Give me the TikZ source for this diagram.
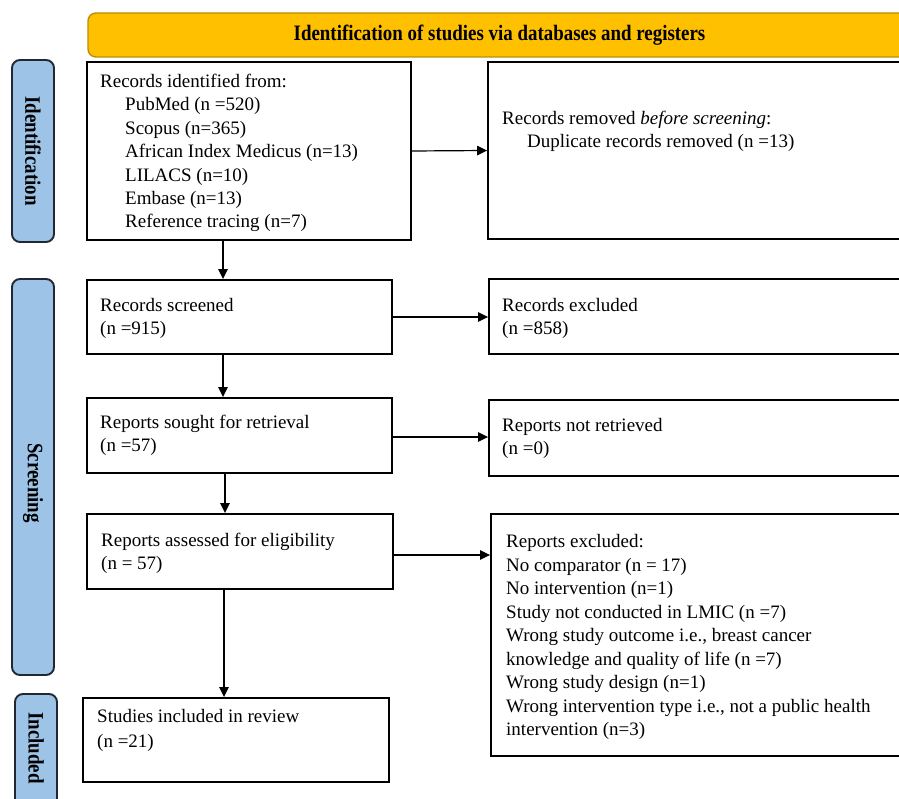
\documentclass[tikz,border=0pt]{standalone}
\usepackage{fontspec}
\setmainfont{Liberation Serif}
\newfontfamily\condbf[FakeStretch=0.86]{Liberation Serif Bold}
\usetikzlibrary{arrows.meta}
\definecolor{hdrfill}{HTML}{FFC000}
\definecolor{hdrline}{HTML}{B8900A}
\definecolor{labfill}{HTML}{9DC3E6}
\definecolor{labline}{HTML}{222833}
\tikzset{
  box/.style={draw=black, line width=1.9pt, fill=white, inner sep=0pt},
  lab/.style={draw=labline, line width=1.9pt, fill=labfill, rounded corners=8pt, inner sep=0pt},
  hdrbox/.style={draw=hdrline, line width=1.4pt, fill=hdrfill, rounded corners=8pt, inner sep=0pt},
  labtxt/.style={rotate=-90, font=\condbf\fontsize{22}{24}\selectfont, inner sep=0pt},
  hdrtxt/.style={font=\condbf\fontsize{22}{24}\selectfont, inner sep=0pt},
  txt/.style={anchor=base west, inner sep=0pt, font=\fontsize{19}{23}\selectfont},
  arr/.style={line width=1.2pt, -{Triangle[length=10pt,width=9.5pt]}}
}
\begin{document}
\begin{tikzpicture}[x=1pt,y=-1pt]
\useasboundingbox (0,0) rectangle (899,799);
\clip (0,0) rectangle (899,799);
\fill[white] (0,0) rectangle (899,799);
% header
\node[hdrbox, minimum width=823pt, minimum height=44pt] (hdr) at (499.5,35) {};
\node[hdrtxt] (hdrt) at (499.5,35) {Identification of studies via databases and registers};
% side labels
\node[lab, minimum width=42pt, minimum height=182pt] (lab1) at (33,151) {};
\node[labtxt] (lab1t) at (33,151) {Identification};
\node[lab, minimum width=42pt, minimum height=396pt] (lab2) at (33,477) {};
\node[labtxt] (lab2t) at (33,483) {Screening};
\node[lab, minimum width=42pt, minimum height=136pt] (lab3) at (36,762) {};
\node[labtxt] (lab3t) at (36,748) {Included};
% boxes
\node[box, minimum width=324pt, minimum height=178pt] (ident) at (249,151) {};
\node[box, minimum width=423pt, minimum height=177pt] (removed) at (699.5,150.5) {};
\node[box, minimum width=305pt, minimum height=74pt] (screened) at (239.5,317) {};
\node[box, minimum width=422pt, minimum height=75pt] (excluded) at (700,316.5) {};
\node[box, minimum width=305pt, minimum height=75pt] (sought) at (239.5,435.5) {};
\node[box, minimum width=422pt, minimum height=76pt] (notretr) at (700,438) {};
\node[box, minimum width=306pt, minimum height=75pt] (assessed) at (240,551.5) {};
\node[box, minimum width=420pt, minimum height=242pt] (repexcl) at (701,635) {};
\node[box, minimum width=306pt, minimum height=84pt] (studies) at (236,740) {};
% texts
\node[txt] (a1) at (100,87.5) {Records identified from:};
\node[txt] (a2) at (125,110.9) {PubMed (n =520)};
\node[txt] (a3) at (125,134.3) {Scopus (n=365)};
\node[txt] (a4) at (125,157.7) {African Index Medicus (n=13)};
\node[txt] (a5) at (125,181.1) {LILACS (n=10)};
\node[txt] (a6) at (125,204.5) {Embase (n=13)};
\node[txt] (a7) at (125,227.9) {Reference tracing (n=7)};
\node[txt] (b1) at (502,124.5) {Records removed \textit{before screening}:};
\node[txt] (b2) at (527,147.5) {Duplicate records removed (n =13)};
\node[txt] (c1) at (100,311.5) {Records screened};
\node[txt] (c2) at (100,334.9) {(n =915)};
\node[txt] (d1) at (502,311.5) {Records excluded};
\node[txt] (d2) at (502,334.9) {(n =858)};
\node[txt] (e1) at (100,428.5) {Reports sought for retrieval};
\node[txt] (e2) at (100,451.9) {(n =57)};
\node[txt] (f1) at (502,431.5) {Reports not retrieved};
\node[txt] (f2) at (502,454.9) {(n =0)};
\node[txt] (g1) at (101,546.5) {Reports assessed for eligibility};
\node[txt] (g2) at (101,569.9) {(n = 57)};
\node[txt] (h1) at (506,547.5) {Reports excluded:};
\node[txt] (h2) at (506,571) {No comparator (n = 17)};
\node[txt] (h3) at (506,594.5) {No intervention (n=1)};
\node[txt] (h4) at (506,618) {Study not conducted in LMIC (n =7)};
\node[txt] (h5) at (506,641.5) {Wrong study outcome i.e., breast cancer};
\node[txt] (h6) at (506,665) {knowledge and quality of life (n =7)};
\node[txt] (h7) at (506,688.5) {Wrong study design (n=1)};
\node[txt] (h8) at (506,712) {Wrong intervention type i.e., not a public health};
\node[txt] (h9) at (506,735.5) {intervention (n=3)};
\node[txt] (i1) at (97,722.5) {Studies included in review};
\node[txt] (i2) at (97,747) {(n =21)};
% connectors
\coordinate (v1) at (223,0);
\coordinate (v2) at (225,0);
\coordinate (v3) at (224,0);
\coordinate (hy1) at (0,437);
\coordinate (hy2) at (0,555);
\draw[arr] (ident.east) -- (removed.west);
\draw[arr] (ident.south -| v1) -- (screened.north -| v1);
\draw[arr] (screened.east) -- (excluded.west |- screened.east);
\draw[arr] (screened.south -| v1) -- (sought.north -| v1);
\draw[arr] (sought.east |- hy1) -- (notretr.west |- hy1);
\draw[arr] (sought.south -| v2) -- (assessed.north -| v2);
\draw[arr] (assessed.east |- hy2) -- (repexcl.west |- hy2);
\draw[arr] (assessed.south -| v3) -- (studies.north -| v3);
\end{tikzpicture}
\end{document}
